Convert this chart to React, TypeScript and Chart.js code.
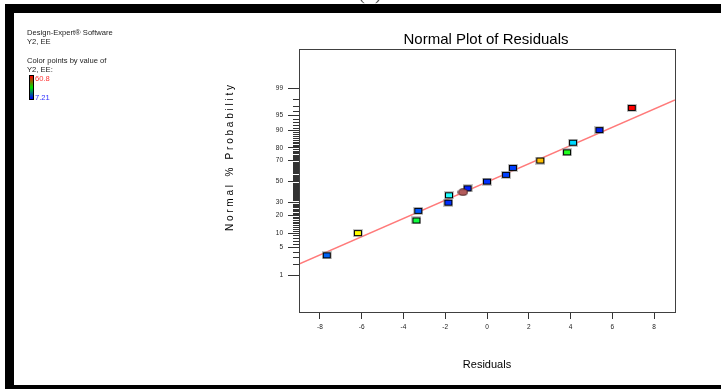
import React, { useEffect, useRef } from 'react';
import { Chart, registerables } from 'chart.js';

Chart.register(...registerables);

// ---- data ----
const residuals = [-7.67, -6.18, -3.38, -3.29, -1.85, -1.82, -0.93, 0.0, 0.91, 1.24, 2.55, 3.83, 4.12, 5.38, 6.93];
const probabilities = [3.33, 10, 16.67, 23.33, 30, 36.67, 43.33, 50, 56.67, 63.33, 70, 76.67, 83.33, 90, 96.67];
const pointColors = ['#0062f5', '#ffff00', '#10ff40', '#0058ff', '#0030ff', '#20ffff', '#0020ff', '#0030ff', '#0040ff', '#0040ff', '#ffc000', '#20ff20', '#00d8ff', '#0020f0', '#ff0000'];
const markedResiduals = [-1.15];
const markedProbabilities = [39.6];
const fitResiduals = [-9, 9];
const fitProbabilities = [2.0, 97.9];
const xTickValues = [-8, -6, -4, -2, 0, 2, 4, 6, 8];
const yTickLabels = [1, 5, 10, 20, 30, 50, 70, 80, 90, 95, 99];
const yMinorTickLabels = Array.from({ length: 99 }, (_, i) => i + 1).filter((p) => !yTickLabels.includes(p));
const legendMax = '60.8';
const legendMin = '7.21';

const FONT = '"Liberation Sans", Arial, sans-serif';

// inverse standard normal CDF (Acklam)
function probit(pct: number): number {
  const p = pct / 100;
  const a = [-3.969683028665376e1, 2.209460984245205e2, -2.759285104469687e2, 1.38357751867269e2, -3.066479806614716e1, 2.506628277459239];
  const b = [-5.447609879822406e1, 1.615858368580409e2, -1.556989798598866e2, 6.680131188771972e1, -1.328068155288572e1];
  const c = [-7.784894002430293e-3, -3.223964580411365e-1, -2.400758277161838, -2.549732539343734, 4.374664141464968, 2.938163982698783];
  const d = [7.784695709041462e-3, 3.224671290700398e-1, 2.445134137142996, 3.754408661907416];
  const pl = 0.02425;
  if (p < pl) {
    const q = Math.sqrt(-2 * Math.log(p));
    return (((((c[0] * q + c[1]) * q + c[2]) * q + c[3]) * q + c[4]) * q + c[5]) / ((((d[0] * q + d[1]) * q + d[2]) * q + d[3]) * q + 1);
  }
  if (p > 1 - pl) {
    const q = Math.sqrt(-2 * Math.log(1 - p));
    return -(((((c[0] * q + c[1]) * q + c[2]) * q + c[3]) * q + c[4]) * q + c[5]) / ((((d[0] * q + d[1]) * q + d[2]) * q + d[3]) * q + 1);
  }
  const q = p - 0.5;
  const r = q * q;
  return ((((((a[0] * r + a[1]) * r + a[2]) * r + a[3]) * r + a[4]) * r + a[5]) * q) / (((((b[0] * r + b[1]) * r + b[2]) * r + b[3]) * r + b[4]) * r + 1);
}

function makeRect(color: string): HTMLCanvasElement {
  const c = document.createElement('canvas');
  c.width = 10;
  c.height = 8;
  const g = c.getContext('2d')!;
  g.fillStyle = 'rgba(150,150,150,0.55)';
  g.fillRect(0, 0, 10, 8);
  g.fillStyle = '#000';
  g.fillRect(1, 1, 8, 6);
  g.fillStyle = color;
  g.fillRect(2, 2, 6, 4);
  return c;
}

function makeEllipse(color: string): HTMLCanvasElement {
  const c = document.createElement('canvas');
  c.width = 11;
  c.height = 8;
  const g = c.getContext('2d')!;
  g.beginPath();
  g.ellipse(5.5, 4, 4.6, 3.2, 0, 0, Math.PI * 2);
  g.fillStyle = color;
  g.fill();
  g.lineWidth = 1;
  g.strokeStyle = '#3a1a1a';
  g.stroke();
  return c;
}

const decorPlugin = {
  id: 'decor',
  afterDraw(chart: any) {
    const { ctx, chartArea } = chart;
    const { left, top, right, bottom } = chartArea;
    const yScale = chart.scales.y;
    ctx.save();
    // plot frame
    ctx.strokeStyle = '#404040';
    ctx.lineWidth = 1;
    ctx.strokeRect(left + 0.5, top + 0.5, right - left, bottom - top);
    // minor ticks on probability axis
    ctx.strokeStyle = '#333';
    ctx.beginPath();
    for (const p of yMinorTickLabels) {
      const y = Math.round(yScale.getPixelForValue(probit(p))) + 0.5;
      ctx.moveTo(left - 6, y);
      ctx.lineTo(left, y);
    }
    ctx.stroke();
    // title
    ctx.fillStyle = '#000';
    ctx.font = `15px ${FONT}`;
    ctx.textAlign = 'center';
    ctx.textBaseline = 'alphabetic';
    ctx.fillText('Normal Plot of Residuals', (left + right) / 2 - 1, 44);
    // y axis title
    ctx.save();
    ctx.translate(230, 158);
    ctx.rotate(-Math.PI / 2);
    ctx.font = `10px ${FONT}`;
    ctx.textBaseline = 'middle';
    ctx.fillText('N o r m a l   %   P r o b a b i l i t y', 0, 0);
    ctx.restore();
    // side notes
    ctx.textAlign = 'left';
    ctx.font = `7.6px ${FONT}`;
    ctx.fillStyle = '#222';
    ctx.fillText('Design-Expert\u00ae Software', 27, 35);
    ctx.fillText('Y2, EE', 27, 44);
    ctx.fillText('Color points by value of', 27, 63);
    ctx.fillText('Y2, EE:', 27, 72);
    const grad = ctx.createLinearGradient(0, 76, 0, 99);
    grad.addColorStop(0, '#ff0000');
    grad.addColorStop(0.5, '#00e000');
    grad.addColorStop(1, '#0000ff');
    ctx.fillStyle = '#000';
    ctx.fillRect(29, 75, 5, 25);
    ctx.fillStyle = grad;
    ctx.fillRect(30, 76, 3, 23);
    ctx.fillStyle = '#ff3030';
    ctx.fillText(legendMax, 35, 81);
    ctx.fillStyle = '#3030ff';
    ctx.fillText(legendMin, 35, 100);
    // outer frame bands
    ctx.fillStyle = '#000';
    ctx.fillRect(5, 4, 716, 9);
    ctx.fillRect(5, 4, 9, 385);
    ctx.fillRect(5, 385, 716, 4);
    // cropped caption at the very top
    ctx.fillStyle = '#555';
    ctx.textAlign = 'center';
    ctx.font = `20px "Liberation Serif", serif`;
    ctx.fillText('(b)', 370, -1);
    ctx.restore();
  },
};

export default function App() {
  const ref = useRef<HTMLCanvasElement>(null);
  useEffect(() => {
    if (!ref.current) return;
    const pointData = residuals.map((r, i) => ({ x: r, y: probit(probabilities[i]) }));
    const markedData = markedResiduals.map((r, i) => ({ x: r, y: probit(markedProbabilities[i]) }));
    const fitData = fitResiduals.map((r, i) => ({ x: r, y: probit(fitProbabilities[i]) }));
    const rectImages = pointColors.map(makeRect);
    const ellipseImage = makeEllipse('#b35c5c');

    const chart = new Chart(ref.current, {
      type: 'scatter',
      data: {
        datasets: [
          {
            data: markedData,
            pointStyle: ellipseImage as any,
            pointRadius: 4,
            order: 1,
          },
          {
            data: pointData,
            pointStyle: rectImages as any,
            pointRadius: 4,
            order: 2,
          },
          {
            type: 'line',
            data: fitData,
            borderColor: '#ff7a7a',
            borderWidth: 1.5,
            pointRadius: 0,
            order: 3,
          } as any,
        ],
      },
      options: {
        responsive: false,
        animation: false,
        events: [],
        layout: { padding: { left: 0, top: 49, right: 46, bottom: 0 } },
        plugins: { legend: { display: false }, tooltip: { enabled: false } },
        scales: {
          x: {
            type: 'linear',
            min: -9,
            max: 9,
            afterBuildTicks: (scale: any) => {
              scale.ticks = xTickValues.map((v) => ({ value: v }));
            },
            afterFit: (scale: any) => {
              scale.height = 77;
            },
            border: { display: false },
            grid: { drawOnChartArea: false, drawTicks: true, tickLength: 7, tickColor: '#333', tickWidth: 1 },
            ticks: {
              font: { family: FONT, size: 6.5 },
              color: '#222',
              padding: 4.5,
              maxRotation: 0,
              autoSkip: false,
              callback: (v: any) => String(v),
            },
            title: {
              display: true,
              text: 'Residuals',
              font: { family: FONT, size: 11 },
              color: '#000',
              padding: { top: 0, bottom: 17.5 },
            },
          },
          y: {
            type: 'linear',
            min: -3.245,
            max: 3.3,
            afterBuildTicks: (scale: any) => {
              scale.ticks = yTickLabels.map((p) => ({ value: probit(p) }));
            },
            afterFit: (scale: any) => {
              scale.width = 299;
            },
            border: { display: false },
            grid: { drawOnChartArea: false, drawTicks: true, tickLength: 11, tickColor: '#333', tickWidth: 1 },
            ticks: {
              font: { family: FONT, size: 6.5 },
              color: '#222',
              padding: 5,
              autoSkip: false,
              callback: (_v: any, i: number) => String(yTickLabels[i]),
            },
          },
        },
      },
      plugins: [decorPlugin],
    } as any);
    return () => chart.destroy();
  }, []);

  return (
    <div style={{ position: 'absolute', left: 0, top: 0, width: 721, height: 389, background: '#fff' }}>
      <canvas ref={ref} width={721} height={389} style={{ display: 'block', width: 721, height: 389 }} />
    </div>
  );
}
